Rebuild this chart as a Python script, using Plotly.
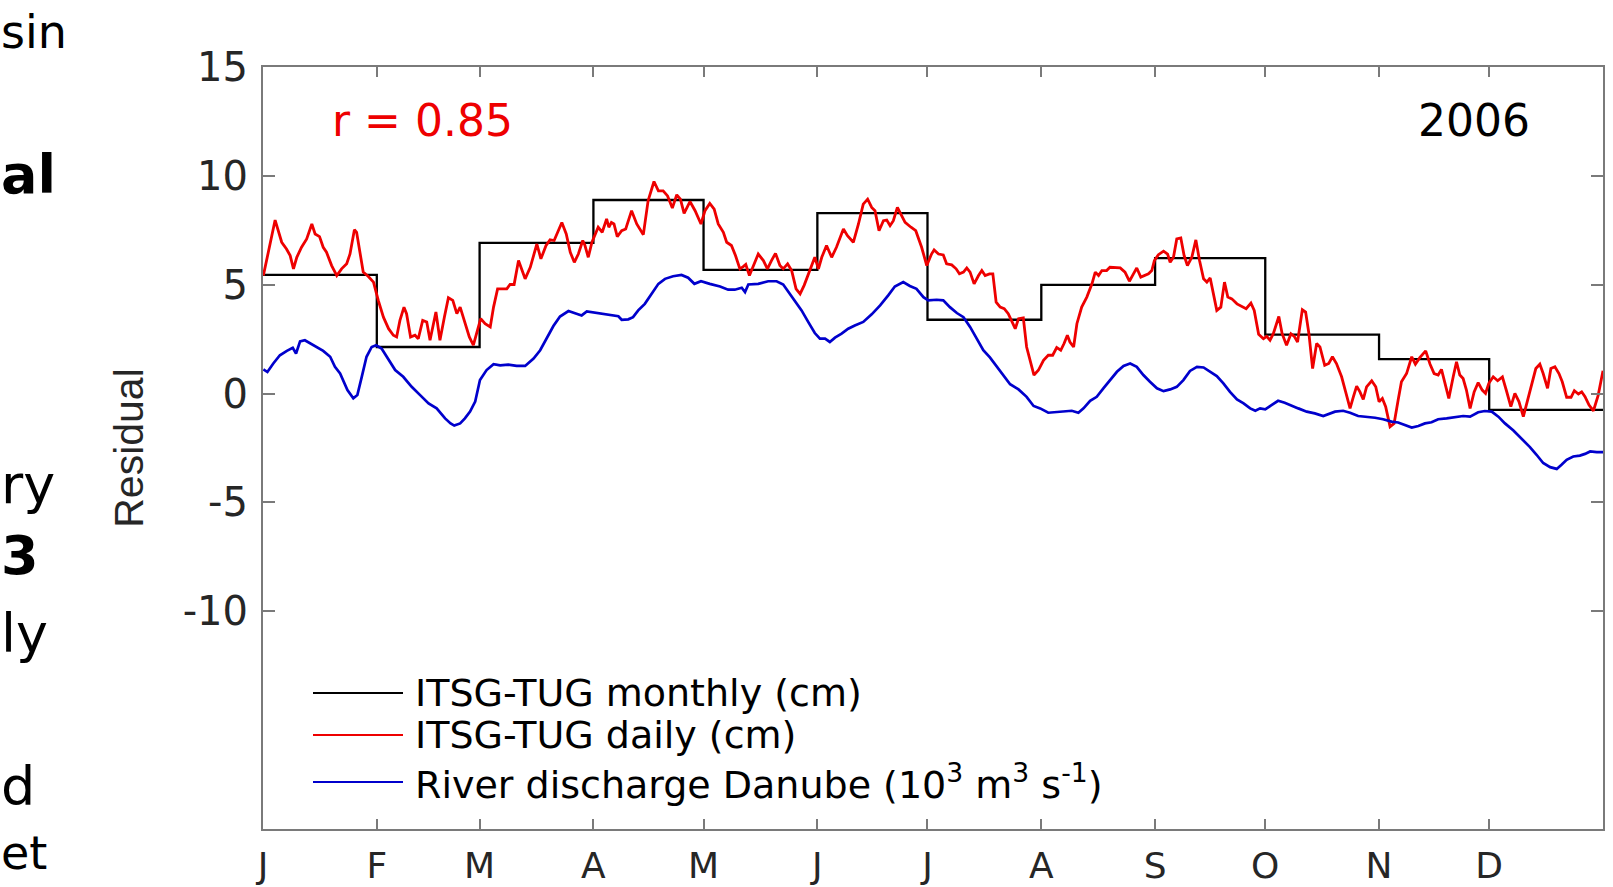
import plotly.graph_objects as go

# ---------------- data ----------------
month_labels = ["J", "F", "M", "A", "M", "J", "J", "A", "S", "O", "N", "D"]
month_start_day = [0, 31, 59, 90, 120, 151, 181, 212, 243, 273, 304, 334]
year_end_day = 365

# ITSG-TUG monthly (cm)
monthly_cm = [5.45, 2.14, 6.92, 8.89, 5.68, 8.29, 3.39, 4.99, 6.22, 2.71, 1.58, -0.75]

# ITSG-TUG daily (cm)
daily_day = [
    0.1, 3.3, 5.1, 6.4, 7.4, 8.3, 9.2, 10.5, 11.9, 13.3, 14.2, 15.4, 16.4, 17.3, 18.7, 20.1,
    21.4, 22.8, 23.7, 24.9, 25.5, 26.4, 27.3, 28.7, 30.1, 31.4, 32.8, 34.2, 35.5, 36.4, 37.3,
    38.4, 39.1, 40.2, 41.4, 42.3, 43.5, 44.6, 45.5, 47.1, 48.2, 49.4, 50.5, 51.7, 52.8, 53.7,
    55.0, 56.2, 57.3, 58.2, 59.3, 60.5, 61.9, 62.8, 63.9, 65.0, 66.4, 67.3, 68.4, 69.6, 70.5,
    71.4, 72.8, 74.6, 75.7, 77.1, 78.2, 79.3, 81.4, 82.6, 83.7, 84.8, 85.9, 87.1, 87.7, 88.6,
    89.6, 90.4, 91.3, 92.4, 93.6, 94.2, 94.9, 95.6, 96.5, 97.7, 98.8, 100.4, 101.8, 103.6,
    104.9, 106.5, 107.7, 109.0, 110.2, 111.5, 112.7, 113.7, 114.7, 116.3, 117.7, 119.3, 120.4,
    121.7, 122.9, 124.0, 125.4, 126.3, 127.6, 128.7, 129.9, 130.8, 131.5, 132.5, 133.5, 134.9,
    136.3, 137.4, 138.5, 139.6, 140.8, 141.7, 142.9, 144.0, 145.2, 146.3, 147.4, 149.0, 150.3,
    151.3, 152.2, 153.5, 154.9, 156.2, 158.1, 159.2, 160.8, 162.2, 163.5, 164.7, 165.8, 166.7,
    167.8, 169.0, 169.9, 170.8, 171.7, 172.8, 173.8, 174.9, 176.5, 177.8, 179.4, 180.8, 182.1,
    182.8, 184.0, 185.3, 186.2, 187.6, 188.8, 189.7, 190.8, 191.7, 192.6, 193.7, 194.9, 195.8,
    196.7, 197.9, 198.8, 199.7, 200.8, 201.9, 203.0, 203.9, 204.9, 205.8, 207.1, 208.0, 208.9,
    210.0, 211.2, 212.6, 213.9, 215.1, 216.2, 217.3, 218.2, 219.1, 219.8, 220.8, 221.7, 223.0,
    224.4, 225.8, 226.7, 227.6, 228.5, 229.8, 230.7, 232.1, 233.5, 234.8, 236.0, 237.1, 238.0,
    239.1, 240.3, 241.2, 242.1, 242.8, 243.9, 245.3, 246.4, 247.1, 248.0, 248.9, 250.0, 250.9,
    251.8, 253.0, 254.1, 255.1, 256.2, 257.1, 258.0, 258.9, 259.8, 260.9, 261.9, 262.8, 263.9,
    265.3, 266.6, 267.8, 269.1, 270.0, 271.2, 272.5, 273.4, 274.3, 275.2, 276.7, 277.6, 278.8,
    280.0, 280.9, 281.8, 283.1, 284.0, 284.9, 285.9, 287.0, 287.9, 289.2, 290.3, 291.3, 292.4,
    293.8, 294.9, 296.1, 297.0, 297.9, 298.8, 299.7, 300.6, 302.0, 303.1, 304.0, 304.9, 305.8,
    307.0, 308.1, 309.2, 310.1, 311.5, 312.9, 313.9, 315.1, 316.7, 317.9, 319.0, 320.1, 321.0,
    321.9, 323.0, 324.2, 325.1, 326.0, 326.9, 327.8, 328.8, 329.9, 331.0, 332.1, 333.0, 333.9,
    335.1, 336.3, 337.6, 338.7, 339.9, 341.0, 342.1, 343.3, 344.5, 345.6, 346.7, 347.8, 348.7,
    349.9, 350.8, 351.9, 353.0, 353.9, 355.1, 356.3, 357.2, 358.3, 359.2, 360.1, 361.2, 362.4,
    363.7, 365.0,
]
daily_cm = [
    5.42, 7.97, 6.95, 6.64, 6.34, 5.73, 6.26, 6.72, 7.10, 7.79, 7.33, 7.21, 6.72, 6.49, 5.88, 5.42,
    5.73, 5.96, 6.41, 7.53, 7.41, 6.41, 5.58, 5.38, 5.12, 4.28, 3.51, 2.98, 2.68, 2.60, 3.36,
    3.97, 3.67, 2.60, 2.68, 2.52, 3.36, 3.29, 2.45, 3.75, 2.45, 3.51, 4.40, 4.28, 3.67, 3.97,
    3.21, 2.60, 2.22, 2.83, 3.44, 3.21, 3.06, 3.97, 4.81, 4.81, 4.81, 5.01, 5.01, 6.11, 5.65,
    5.27, 5.80, 6.87, 6.19, 6.80, 7.06, 7.03, 7.86, 7.33, 6.49, 6.03, 6.41, 7.03, 6.80, 6.26,
    6.95, 7.25, 7.64, 7.41, 8.02, 7.64, 7.86, 7.79, 7.21, 7.48, 7.56, 8.40, 7.79, 7.30,
    8.86, 9.74, 9.31, 9.31, 9.08, 8.52, 9.13, 8.93, 8.28, 8.82, 8.40, 7.79, 8.40,
    8.73, 8.47, 7.79, 7.41, 6.95, 6.80, 6.34, 5.73, 5.83, 5.93, 5.42, 5.80, 6.41,
    6.11, 5.73, 6.11, 6.44, 5.88, 5.73, 5.96, 5.65, 4.81, 4.58, 4.97, 5.65, 6.26,
    5.73, 6.26, 6.80, 6.26, 6.72, 7.56, 7.25, 6.95, 7.79, 8.70, 8.93, 8.55, 8.40,
    7.48, 7.94, 7.97, 7.71, 7.94, 8.55, 8.24, 7.86, 7.64, 7.48, 6.72, 5.88, 6.41,
    6.60, 6.41, 6.37, 5.96, 5.91, 5.73, 5.50, 5.58, 5.77, 5.58, 5.04, 5.42, 5.65,
    5.42, 5.50, 5.50, 4.20, 3.97, 3.90, 3.67, 3.36, 2.98, 3.44, 3.48, 2.14, 1.53,
    0.85, 1.07, 1.53, 1.76, 1.76, 2.11, 1.99, 2.30, 2.68, 2.37, 2.14, 3.21, 3.97,
    4.43, 5.04, 5.58, 5.42, 5.65, 5.65, 5.80, 5.80, 5.77, 5.58, 5.16, 5.50, 5.77,
    5.35, 5.42, 5.50, 5.65, 6.11, 6.38, 6.54, 6.41, 6.03, 6.26, 7.10, 7.15, 6.34,
    5.88, 6.26, 7.06, 6.11, 5.27, 5.12, 5.31, 4.58, 3.82, 3.97, 5.12, 4.43, 4.35,
    4.12, 4.00, 3.90, 4.16, 3.82, 2.72, 2.52, 2.63, 2.45, 2.75, 3.54, 2.75, 2.22,
    2.75, 2.63, 2.37, 3.85, 3.74, 2.75, 1.15, 2.30, 2.14, 1.30, 1.38, 1.69, 1.38,
    0.77, 0.08, -0.68, -0.15, 0.34, 0.08, -0.27, 0.31, 0.59, 0.31, -0.37, -0.22, -0.60,
    -1.52, -1.37, -0.30, 0.54, 0.92, 1.69, 1.35, 1.65, 1.96, 1.35, 0.92, 0.85, 1.11,
    0.54, -0.22, 0.77, 1.46, 0.85, 0.69, 0.16, -0.68, 0.08, 0.50, 0.16, 0.01, 0.47,
    0.77, 0.59, 0.77, 0.13, -0.60, 0.01, -0.37, -1.06, -0.27, 0.54, 1.15, 1.35, 0.92,
    0.24, 1.15, 1.23, 0.92, 0.54, -0.17, -0.17, 0.13, -0.02, 0.08, -0.14, -0.53, -0.79,
    -0.07, 1.05,
]

# River discharge Danube (10^3 m^3 s^-1)
discharge_day = [
    0.1, 1.2, 2.8, 4.6, 6.5, 8.1, 9.0, 10.1, 11.4, 13.7, 16.4, 18.3, 19.6, 21.0, 23.0, 24.6,
    25.7, 26.9, 28.2, 29.6, 30.8, 32.3, 34.2, 36.0, 38.2, 40.5, 42.8, 45.1, 47.3, 49.6, 51.1,
    52.1, 53.7, 55.0, 56.4, 57.8, 59.1, 60.9, 62.8, 64.6, 66.8, 69.1, 71.4, 73.7, 75.5, 77.3,
    79.1, 80.9, 83.2, 85.0, 86.8, 88.2, 90.0, 92.7, 94.9, 96.8, 97.7, 99.5, 100.8, 102.2,
    104.0, 105.8, 107.7, 109.5, 111.7, 114.0, 115.8, 117.5, 119.3, 121.7, 124.5, 126.7, 128.5,
    130.4, 131.3, 132.2, 134.9, 137.6, 139.9, 141.7, 143.5, 144.9, 146.7, 148.5, 150.3, 151.7,
    153.1, 154.4, 155.8, 157.6, 159.4, 161.2, 163.5, 165.8, 168.1, 170.3, 172.1, 174.4, 176.2,
    178.0, 179.9, 181.2, 183.5, 185.3, 187.1, 189.0, 190.8, 192.6, 194.4, 196.2, 198.0, 199.9,
    201.7, 203.5, 205.8, 208.0, 209.9, 211.7, 213.9, 216.2, 218.5, 220.3, 222.1, 223.5, 225.3,
    227.1, 228.9, 230.7, 232.6, 234.4, 236.2, 238.0, 239.8, 241.6, 243.5, 245.3, 247.1, 248.9,
    250.7, 252.5, 254.4, 256.2, 258.0, 259.8, 261.6, 263.4, 265.3, 267.1, 268.9, 270.3, 271.6,
    273.0, 274.7, 276.5, 278.3, 280.2, 282.0, 284.3, 286.5, 288.8, 290.2, 292.0, 294.2, 296.1,
    298.3, 300.6, 302.9, 305.1, 307.4, 309.2, 311.0, 312.9, 314.7, 316.5, 318.3, 320.1, 322.4,
    324.7, 326.9, 328.8, 331.0, 332.8, 334.7, 336.5, 338.3, 340.6, 342.8, 345.1, 346.9, 348.7,
    350.6, 352.4, 353.7, 355.1, 356.9, 358.7, 360.1, 361.5, 363.3, 365.0,
]
discharge_val = [
    1.11, 0.99, 1.38, 1.76, 1.96, 2.10, 1.84, 2.40, 2.45, 2.22, 1.96, 1.69, 1.23, 0.92, 0.16, -0.22,
    -0.07, 0.77, 1.69, 2.14, 2.22, 2.07, 1.53, 1.08, 0.77, 0.31, -0.07, -0.45, -0.68, -1.14, -1.37,
    -1.47, -1.37, -1.14, -0.83, -0.37, 0.62, 1.08, 1.35, 1.30, 1.33, 1.27, 1.27, 1.61, 1.99, 2.52,
    3.10, 3.54, 3.79, 3.69, 3.59, 3.77, 3.72, 3.64, 3.59, 3.55, 3.39, 3.41, 3.51, 3.82,
    4.12, 4.58, 5.04, 5.27, 5.39, 5.45, 5.32, 5.04, 5.16, 5.04, 4.92, 4.77, 4.77,
    4.86, 4.66, 5.01, 5.04, 5.16, 5.16, 5.01, 4.58, 4.20, 3.82, 3.29, 2.78, 2.52,
    2.52, 2.37, 2.57, 2.75, 2.98, 3.13, 3.29, 3.64, 4.05, 4.51, 4.92, 5.12, 4.94,
    4.81, 4.43, 4.28, 4.31, 4.28, 3.97, 3.70, 3.51, 3.06, 2.52, 1.99, 1.66, 1.23,
    0.80, 0.43, 0.19, -0.15, -0.57, -0.68, -0.88, -0.86, -0.83, -0.79, -0.88, -0.68, -0.33,
    -0.15, 0.24, 0.62, 1.00, 1.27, 1.38, 1.23, 0.85, 0.54, 0.24, 0.11, 0.19, 0.31,
    0.62, 1.04, 1.23, 1.20, 1.00, 0.80, 0.47, 0.08, -0.27, -0.45, -0.68, -0.79, -0.68,
    -0.72, -0.53, -0.33, -0.42, -0.57, -0.68, -0.83, -0.91, -1.03, -0.94, -0.83, -0.79, -0.88,
    -1.03, -1.06, -1.11, -1.18, -1.29, -1.33, -1.44, -1.56, -1.49, -1.37, -1.32, -1.18, -1.14,
    -1.09, -1.03, -1.06, -0.86, -0.80, -0.83, -1.06, -1.37, -1.70, -2.05, -2.46, -2.81, -3.19,
    -3.38, -3.46, -3.27, -3.04, -2.89, -2.85, -2.77, -2.66, -2.69, -2.69,
]

ytick_vals = [-10, -5, 0, 5, 10, 15]
ytick_text = ["-10", "-5", "0", "5", "10", "15"]
y_range = [-20, 15]

legend_labels = [
    "ITSG-TUG monthly (cm)",
    "ITSG-TUG daily (cm)",
    "River discharge Danube (10<sup>3</sup> m<sup>3</sup> s<sup>-1</sup>)",
]
series_colors = ["#000000", "#ee0000", "#0000cc"]

corr_text = "r = 0.85"
year_text = "2006"

# slide text visible at the left edge of the screenshot
side_texts = ["sin", "al", "ry", "3", "ly", "d", "et"]
side_bold = [False, True, False, True, False, False, False]

# ---------------- layout geometry (pixels) ----------------
W, H = 1613, 887
ML, MR, MT, MB = 263, 10, 67, 58
PW, PH = W - ML - MR, H - MT - MB


def px(xp):
    return (xp - ML) / PW


def py(yp):
    return (H - MB - yp) / PH


fig = go.Figure()

fig.add_trace(go.Scatter(
    x=month_start_day + [year_end_day], y=monthly_cm + [monthly_cm[-1]],
    mode="lines", line=dict(color=series_colors[0], width=2.3, shape="hv"),
    name=legend_labels[0], showlegend=False,
))
fig.add_trace(go.Scatter(
    x=daily_day, y=daily_cm, mode="lines",
    line=dict(color=series_colors[1], width=2.8),
    name=legend_labels[1], showlegend=False,
))
fig.add_trace(go.Scatter(
    x=discharge_day, y=discharge_val, mode="lines",
    line=dict(color=series_colors[2], width=2.7),
    name=legend_labels[2], showlegend=False,
))

axis_gray = "#7a7a7a"

fig.update_xaxes(
    range=[0, year_end_day], tickmode="array", tickvals=month_start_day, ticktext=month_labels,
    ticks="inside", ticklen=10, tickwidth=1.5, tickcolor=axis_gray,
    showline=True, linecolor=axis_gray, linewidth=2, mirror="ticks",
    showgrid=False, zeroline=False, automargin=False,
    tickfont=dict(family="DejaVu Sans", size=36, color="#262626"),
    ticklabelstandoff=4,
)
fig.update_yaxes(
    range=y_range, tickmode="array", tickvals=ytick_vals, ticktext=ytick_text,
    ticks="inside", ticklen=12, tickwidth=1.5, tickcolor=axis_gray,
    showline=True, linecolor=axis_gray, linewidth=2, mirror="ticks",
    showgrid=False, zeroline=False, automargin=False,
    tickfont=dict(family="DejaVu Sans", size=40, color="#262626"), ticklabelstandoff=5,
    title=dict(text="Residual", standoff=26,
               font=dict(family="Liberation Sans", size=41, color="#262626")),
)

annotations = [
    dict(text=corr_text, x=px(422), y=py(121), xref="paper", yref="paper",
         xanchor="center", yanchor="middle", showarrow=False,
         font=dict(family="DejaVu Sans", size=44, color="#ee0000")),
    dict(text=year_text, x=px(1474), y=py(121), xref="paper", yref="paper",
         xanchor="center", yanchor="middle", showarrow=False,
         font=dict(family="DejaVu Sans", size=44, color="#000000")),
]

# custom legend (long line samples as in the original)
legend_rows_y = [693, 735, 782]
shapes = []
for lbl, col, ry in zip(legend_labels, series_colors, legend_rows_y):
    shapes.append(dict(type="line", xref="paper", yref="paper",
                       x0=px(313), x1=px(403), y0=py(ry), y1=py(ry),
                       line=dict(color=col, width=1.8)))
    annotations.append(dict(text=lbl, x=px(413), y=py(ry), xref="paper", yref="paper",
                            xanchor="left", yanchor="middle", showarrow=False,
                            font=dict(family="DejaVu Sans", size=38, color="#000000")))

side_center = [32, 174, 484, 555, 633, 786, 853]
side_size = [46, 54, 54, 54, 54, 54, 46]
for t, b, yc, fs in zip(side_texts, side_bold, side_center, side_size):
    annotations.append(dict(text=f"<b>{t}</b>" if b else t, x=px(0), y=py(yc),
                            xref="paper", yref="paper", xanchor="left", yanchor="middle",
                            showarrow=False, borderpad=0,
                            font=dict(family="DejaVu Sans", size=fs, color="#000000")))

fig.update_layout(
    width=W, height=H, template="none",
    margin=dict(l=ML, r=MR, t=MT, b=MB, autoexpand=False),
    paper_bgcolor="white", plot_bgcolor="white",
    showlegend=False, annotations=annotations, shapes=shapes,
)

fig.write_html(
    "out.html",
    config={"displayModeBar": False},
    post_script="document.body.style.margin='0px';document.body.style.overflow='hidden';",
)
